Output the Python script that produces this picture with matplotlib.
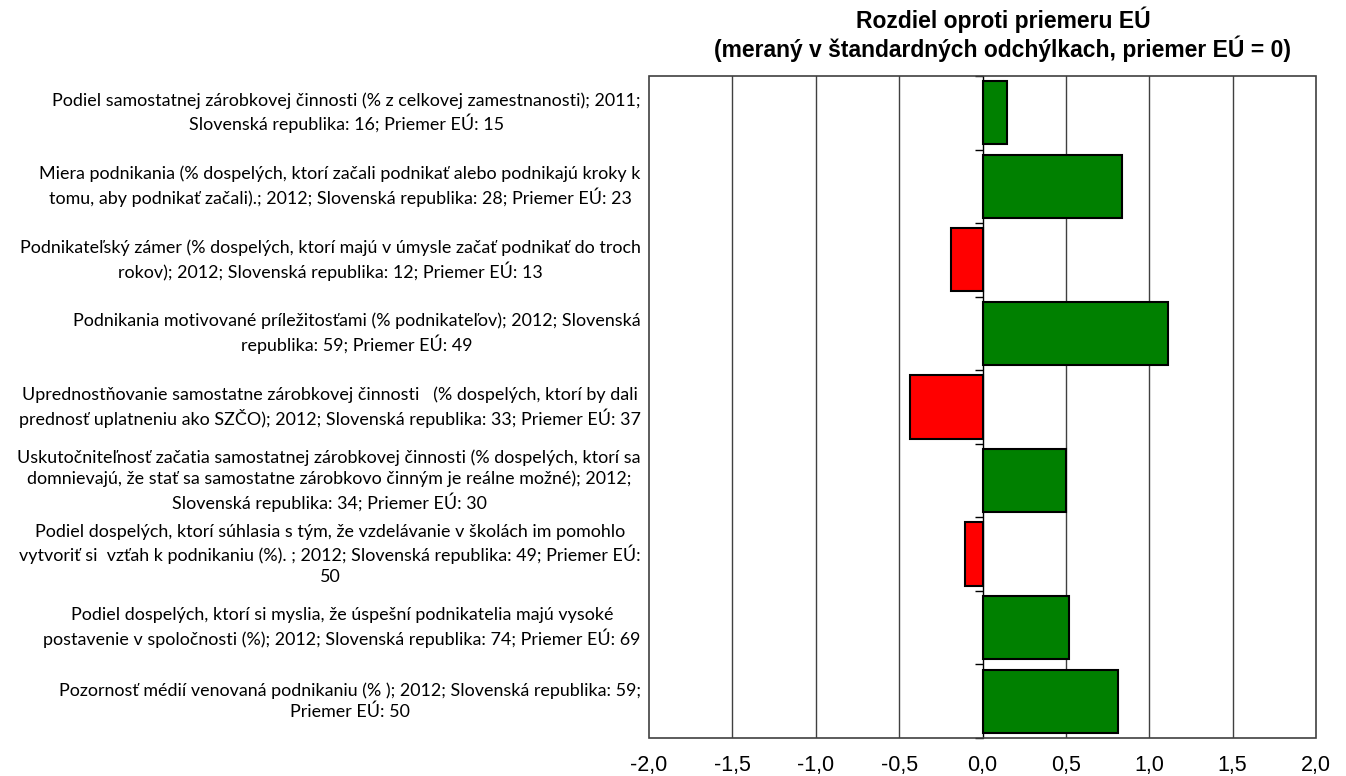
import matplotlib.pyplot as plt
import numpy as np
from matplotlib.patches import Rectangle
from matplotlib.ticker import FuncFormatter

labels = [
    "Podiel samostatnej zárobkovej činnosti (% z celkovej zamestnanosti); 2011;\nSlovenská republika: 16; Priemer EÚ: 15",
    "Miera podnikania (% dospelých, ktorí začali podnikať alebo podnikajú kroky k\ntomu, aby podnikať začali).; 2012; Slovenská republika: 28; Priemer EÚ: 23",
    "Podnikateľský zámer (% dospelých, ktorí majú v úmysle začať podnikať do troch\nrokov); 2012; Slovenská republika: 12; Priemer EÚ: 13",
    "Podnikania motivované príležitosťami (% podnikateľov); 2012; Slovenská\nrepublika: 59; Priemer EÚ: 49",
    "Uprednostňovanie samostatne zárobkovej činnosti   (% dospelých, ktorí by dali\nprednosť uplatneniu ako SZČO); 2012; Slovenská republika: 33; Priemer EÚ: 37",
    "Uskutočniteľnosť začatia samostatnej zárobkovej činnosti (% dospelých, ktorí sa\ndomnievajú, že stať sa samostatne zárobkovo činným je reálne možné); 2012;\nSlovenská republika: 34; Priemer EÚ: 30",
    "Podiel dospelých, ktorí súhlasia s tým, že vzdelávanie v školách im pomohlo\nvytvoriť si  vzťah k podnikaniu (%). ; 2012; Slovenská republika: 49; Priemer EÚ:\n50",
    "Podiel dospelých, ktorí si myslia, že úspešní podnikatelia majú vysoké\npostavenie v spoločnosti (%); 2012; Slovenská republika: 74; Priemer EÚ: 69",
    "Pozornosť médií venovaná podnikaniu (% ); 2012; Slovenská republika: 59;\nPriemer EÚ: 50",
]
values = [0.146, 0.836, -0.186, 1.11, -0.437, 0.503, -0.108, 0.518, 0.814]
xticks = [-2.0, -1.5, -1.0, -0.5, 0.0, 0.5, 1.0, 1.5, 2.0]

title = "Rozdiel oproti priemeru EÚ\n(meraný v štandardných odchýlkach, priemer EÚ = 0)"

fig = plt.figure(figsize=(13.46, 7.76), dpi=100)
ax = fig.add_axes([0.4822, 0.0490, 0.4955, 0.8531])

y = np.arange(len(values))
colors = ['#008000' if v >= 0 else '#FF0000' for v in values]
ax.barh(y, values, height=0.86, color=colors, edgecolor='black', linewidth=1.5, zorder=3)

ax.set_xlim(-2, 2)
ax.set_ylim(len(values) - 0.5, -0.5)

# svislé mriežky
for xt in xticks[1:-1]:
    ax.axvline(xt, color='#404040', linewidth=1.0, zorder=1)

ax.set_xticks(xticks)
ax.xaxis.set_major_formatter(FuncFormatter(lambda v, p: f"{v:.1f}".replace('.', ',')))
ax.tick_params(axis='x', length=0, pad=12, labelsize=15.5)
for lab in ax.get_xticklabels():
    lab.set_fontfamily('Liberation Sans')

# os y pri nule s krátkymi značkami medzi kategóriami
for s in ['top', 'right', 'bottom']:
    ax.spines[s].set_visible(False)
ax.spines['left'].set_position(('data', 0))
ax.spines['left'].set_color('black')
ax.spines['left'].set_zorder(4)
ax.set_yticks(np.arange(len(values) + 1) - 0.5)
ax.set_yticklabels([])
ax.tick_params(axis='y', direction='out', length=6, width=1)

ax.add_patch(Rectangle((0, 0), 1, 1, transform=ax.transAxes, fill=False,
                       edgecolor='#404040', linewidth=1.2, clip_on=False, zorder=5))

for i, lab in enumerate(labels):
    ax.annotate(lab, xy=(0, i), xycoords=('axes fraction', 'data'),
                xytext=(-6, 0), textcoords='offset points',
                ha='right', va='center', multialignment='center',
                fontsize=12.9, fontfamily='Lato', linespacing=1.32)

fig.text(1003 / 1346, 1 - 34 / 776, title, ha='center', va='center',
         fontsize=16.5, fontweight='bold', fontfamily='Liberation Sans', linespacing=1.1)

fig.savefig('out.png', dpi=100)
